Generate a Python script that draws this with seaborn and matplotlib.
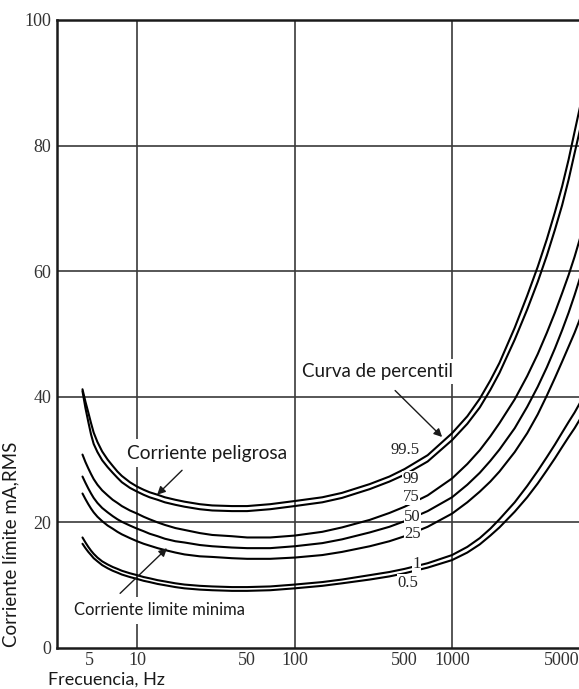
import numpy as np
import pandas as pd
import matplotlib
matplotlib.use("Agg")
import matplotlib.pyplot as plt
import seaborn as sns
from matplotlib.ticker import FixedLocator, FixedFormatter, NullFormatter

# --- Data --------------------------------------------------------------------
FREQ = [4.5, 4.7, 4.9, 5.1, 5.3, 5.6, 6, 6.5, 7, 7.5, 8, 9, 10, 11, 12, 13.5,
        15, 17.5, 20, 25, 30, 40, 50, 70, 100, 150, 200, 300, 400, 500, 700,
        1000, 1250, 1500, 1750, 2000, 2500, 3000, 3500, 4000, 4500, 5000,
        5500, 6000, 7000]

P99_5 = [41.2, 39.2, 37.5, 35.8, 34.3, 32.8, 31.3, 30.0, 29.0, 28.1, 27.4,
         26.4, 25.7, 25.2, 24.8, 24.4, 24.0, 23.6, 23.3, 22.9, 22.7, 22.6,
         22.6, 22.9, 23.4, 24.0, 24.7, 26.1, 27.3, 28.5, 30.7, 34.2, 36.9,
         39.7, 42.6, 45.4, 51.0, 56.1, 60.7, 65.1, 69.4, 73.5, 77.8, 82.2, 89.9]
P99 = [40.9, 38.2, 36.0, 34.0, 32.5, 31.2, 29.9, 28.8, 27.9, 27.1, 26.4,
       25.5, 24.9, 24.4, 24.0, 23.6, 23.2, 22.8, 22.5, 22.1, 21.9, 21.8,
       21.8, 22.1, 22.6, 23.2, 23.9, 25.3, 26.5, 27.6, 29.7, 33.1, 35.7,
       38.3, 41.1, 43.8, 49.1, 53.9, 58.3, 62.5, 66.6, 70.5, 74.6, 78.8, 86.1]
P75 = [30.8, 29.6, 28.6, 27.7, 26.9, 26.0, 25.1, 24.3, 23.6, 23.1, 22.6,
       21.9, 21.4, 20.9, 20.5, 20.0, 19.6, 19.1, 18.8, 18.3, 18.0, 17.8,
       17.6, 17.6, 17.9, 18.5, 19.2, 20.4, 21.5, 22.5, 24.3, 27.0, 29.3,
       31.5, 33.7, 35.8, 39.6, 43.3, 46.8, 50.2, 53.4, 56.5, 59.4, 62.3, 68.0]
P50 = [27.3, 26.3, 25.4, 24.6, 23.9, 23.1, 22.3, 21.6, 21.0, 20.5, 20.1,
       19.5, 19.0, 18.6, 18.2, 17.8, 17.4, 17.0, 16.8, 16.4, 16.2, 16.0,
       15.9, 15.9, 16.2, 16.7, 17.3, 18.4, 19.3, 20.2, 21.8, 24.0, 26.0,
       27.9, 29.8, 31.6, 35.0, 38.4, 41.6, 44.7, 47.7, 50.6, 53.4, 56.2, 61.5]
P25 = [24.6, 23.7, 22.9, 22.2, 21.6, 20.9, 20.2, 19.5, 19.0, 18.5, 18.1,
       17.5, 17.0, 16.6, 16.3, 15.9, 15.6, 15.2, 14.9, 14.6, 14.5, 14.3,
       14.2, 14.2, 14.4, 14.8, 15.3, 16.2, 17.0, 17.8, 19.3, 21.4, 23.2,
       24.9, 26.5, 28.1, 31.2, 34.2, 37.2, 40.2, 43.0, 45.6, 48.0, 50.2, 54.5]
P1 = [17.6, 16.8, 16.1, 15.5, 15.0, 14.4, 13.8, 13.3, 12.9, 12.6, 12.3,
      11.9, 11.6, 11.3, 11.1, 10.8, 10.6, 10.3, 10.1, 9.9, 9.8, 9.7,
      9.7, 9.8, 10.1, 10.5, 10.9, 11.6, 12.1, 12.6, 13.5, 14.8, 16.1,
      17.5, 19.0, 20.5, 23.2, 25.8, 28.2, 30.4, 32.4, 34.3, 36.0, 37.5, 40.5]
P0_5 = [16.6, 15.9, 15.3, 14.8, 14.3, 13.8, 13.2, 12.7, 12.3, 12.0, 11.7,
        11.3, 11.0, 10.7, 10.5, 10.2, 10.0, 9.7, 9.5, 9.3, 9.2, 9.1,
        9.1, 9.2, 9.5, 9.9, 10.3, 10.9, 11.4, 11.9, 12.8, 14.0, 15.2,
        16.5, 17.9, 19.2, 21.7, 24.0, 26.2, 28.3, 30.2, 32.0, 33.6, 35.0, 37.8]

PERCENTILES = ["99.5", "99", "75", "50", "25", "1", "0.5"]
CURVES = [P99_5, P99, P75, P50, P25, P1, P0_5]

X_MAJOR = [5, 10, 50, 100, 500, 1000, 5000]
X_MINOR = [4, 6, 7, 8, 9, 20, 30, 40, 60, 70, 80, 90, 200, 300, 400, 600, 700,
           800, 900, 2000, 3000, 4000, 6000]
Y_MAJOR = [0, 10, 20, 30, 40, 50, 60, 70, 80, 90, 100]
Y_LABELS = ["0", "", "20", "", "40", "", "60", "", "80", "", "100"]
Y_MINOR = [5, 15, 25, 35, 45, 55, 65, 75, 85, 95]

df = pd.DataFrame({
    "freq": FREQ * len(CURVES),
    "corriente": sum(CURVES, []),
    "percentil": np.repeat(PERCENTILES, len(FREQ)),
})

# --- Style -------------------------------------------------------------------
sns.set_style("white")
plt.rcParams["font.family"] = ["Liberation Serif", "DejaVu Serif"]
SANS = ["Lato", "DejaVu Sans"]
INK = "#1a1a1a"

fig = plt.figure(figsize=(5.79, 6.89), dpi=100)
ax = fig.add_axes([57 / 579, 41 / 689, 1 - 57 / 579, 628 / 689])

# grid lines only at decades / every 20 mA
for f in [10, 100, 1000]:
    ax.axvline(f, color="#3a3a3a", lw=1.2, zorder=1)
for v in [20, 40, 60, 80]:
    ax.axhline(v, color="#3a3a3a", lw=1.2, zorder=1)

for p in PERCENTILES:
    sub = df[df["percentil"] == p]
    sns.lineplot(data=sub, x="freq", y="corriente", color="black", lw=1.5,
                 ax=ax, zorder=2, legend=False)

ax.set_xscale("log")
ax.set_xlim(3.1, 6400)
ax.set_ylim(0, 100)

ax.xaxis.set_major_locator(FixedLocator(X_MAJOR))
ax.xaxis.set_major_formatter(FixedFormatter([str(v) for v in X_MAJOR]))
ax.xaxis.set_minor_locator(FixedLocator(X_MINOR))
ax.xaxis.set_minor_formatter(NullFormatter())
ax.yaxis.set_major_locator(FixedLocator(Y_MAJOR))
ax.yaxis.set_major_formatter(FixedFormatter(Y_LABELS))
ax.yaxis.set_minor_locator(FixedLocator(Y_MINOR))

ax.tick_params(axis="both", which="both", direction="in", width=1.2,
               color=INK, labelcolor="#333333", labelsize=13)
ax.tick_params(axis="x", which="major", length=10, pad=3)
ax.tick_params(axis="x", which="minor", length=6.5)
ax.tick_params(axis="y", which="major", length=10.5, pad=4)
ax.tick_params(axis="y", which="minor", length=7)

ax.spines["right"].set_visible(False)
for side in ["left", "bottom", "top"]:
    ax.spines[side].set_linewidth(1.8)
    ax.spines[side].set_color(INK)

ax.set_xlabel("Frecuencia, Hz", family=SANS, fontsize=13, color=INK,
              ha="left", va="center")
ax.xaxis.set_label_coords(-0.017, -0.05)
ax.set_ylabel("Corriente límite mA,RMS", family=SANS, fontsize=13.5,
              color=INK)
ax.yaxis.set_label_coords(-0.072, 0.165)

# --- Percentile labels (white box breaks the curve) --------------------------
box = dict(facecolor="white", edgecolor="none", pad=0.4)
label_pos = {"99.5": (505, 31.6), "99": (550, 26.9), "75": (550, 24.1),
             "50": (560, 20.8), "25": (560, 18.1), "1": (595, 13.3),
             "0.5": (525, 10.4)}
for p, (x, y) in label_pos.items():
    ax.text(x, y, p, fontsize=12, color="#222222", ha="center", va="center",
            bbox=None if p == "99.5" else box, zorder=4)

# --- Annotations -------------------------------------------------------------
wbox = dict(facecolor="white", edgecolor="none", pad=4)
arrow = dict(arrowstyle="-|>", color=INK, lw=1.0, mutation_scale=12,
             shrinkA=0, shrinkB=0)

ax.text(8.6, 31.0, "Corriente peligrosa", family=SANS, fontsize=13.8,
        color=INK, va="center", bbox=wbox, zorder=5)
ax.annotate("", xy=(13.4, 24.4), xytext=(19.3, 28.3), arrowprops=arrow,
            zorder=5)

ax.text(112, 44.0, "Curva de percentil", family=SANS, fontsize=13.5,
        color=INK, va="center", bbox=dict(facecolor="white", edgecolor="none",
                                          pad=3), zorder=5)
ax.annotate("", xy=(865, 33.6), xytext=(435, 41.0), arrowprops=arrow,
            zorder=5)

ax.text(4.0, 6.0, "Corriente limite minima", family=SANS, fontsize=12,
        color=INK, va="center", bbox=wbox, zorder=5)
ax.annotate("", xy=(15.5, 15.9), xytext=(7.8, 8.7), arrowprops=arrow,
            zorder=5)

fig.savefig("out.png", dpi=100)
